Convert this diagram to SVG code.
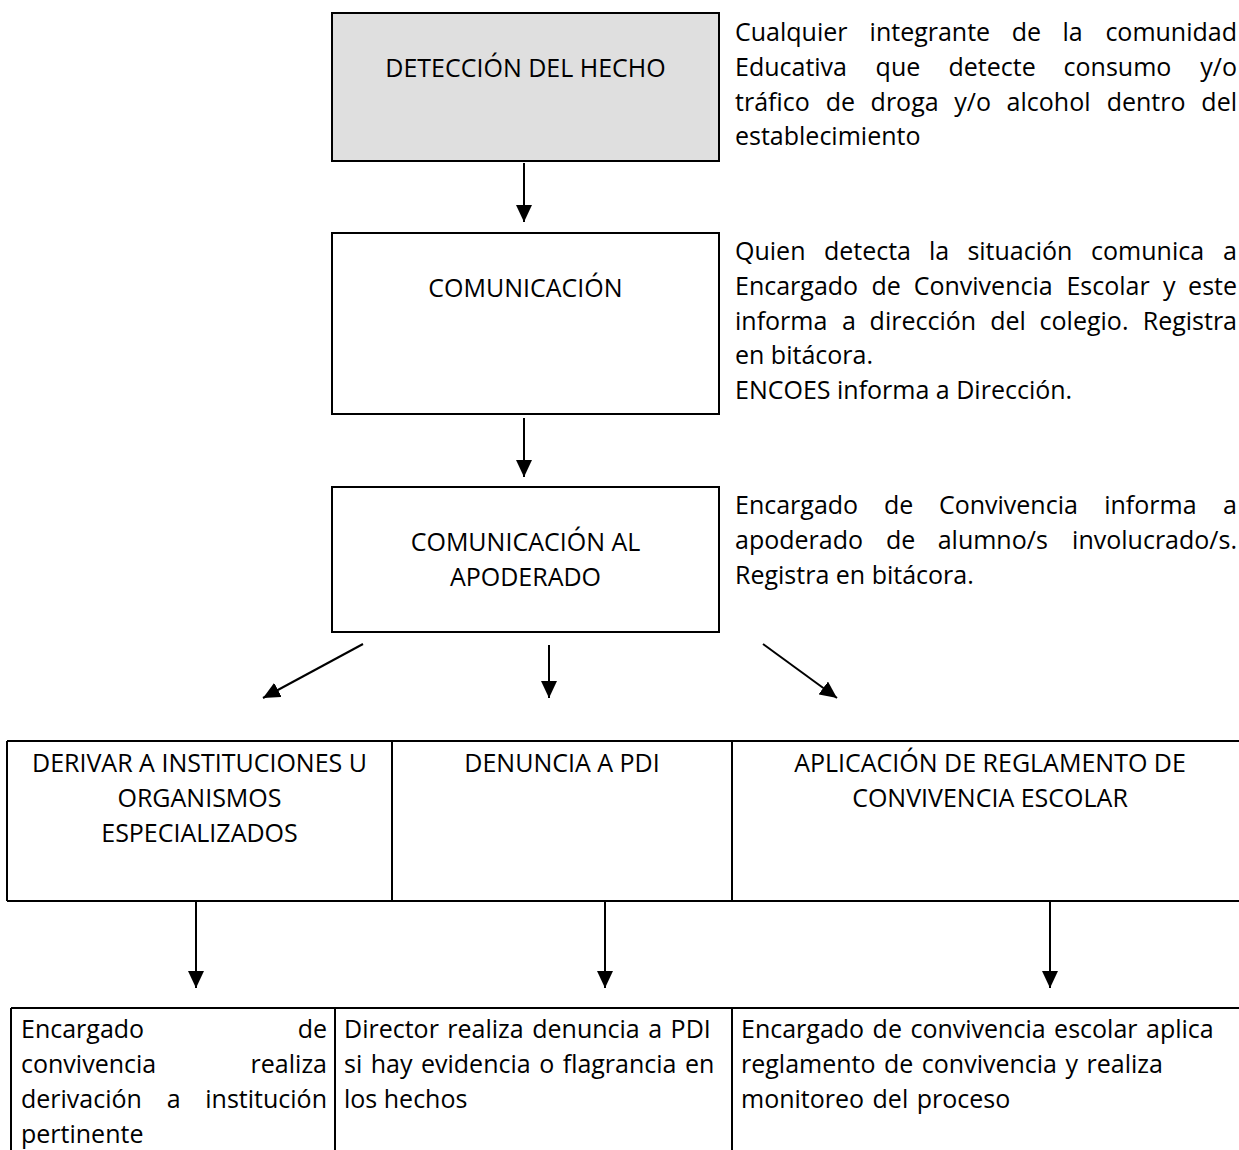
<svg xmlns="http://www.w3.org/2000/svg" width="1239" height="1150" viewBox="0 0 1239 1150">
<style>
  text { font-family: "Open Sans", "Liberation Sans", sans-serif; font-size: 25px; fill: #000; }
  .c { text-anchor: middle; }
  .e { text-anchor: end; }
  .box { fill: #fff; stroke: #000; stroke-width: 2; }
  .grey { fill: #dfdfdf; }
  .grid { stroke: #000; stroke-width: 2; fill: none; }
  .conn { stroke: #000; stroke-width: 2; fill: none; marker-end: url(#ah); }
</style>
<defs>
  <marker id="ah" markerUnits="userSpaceOnUse" markerWidth="17" markerHeight="16" refX="17" refY="8" orient="auto">
    <path d="M0,0 L17,8 L0,16 Z" fill="#000"/>
  </marker>
</defs>
<rect width="1239" height="1150" fill="#fff"/>

<g id="n-deteccion">
  <rect class="box grey" x="332" y="13" width="387" height="148"/>
  <text class="c" x="525.5" y="77">DETECCIÓN DEL HECHO</text>
</g>
<g id="t-deteccion">
  <text y="41"><tspan x="735">Cualquier</tspan><tspan x="869.6">integrante</tspan><tspan x="1011.7">de</tspan><tspan x="1062.5">la</tspan></text>
  <text class="e" x="1237" y="41">comunidad</text>
  <text y="75.8"><tspan x="735">Educativa</tspan><tspan x="875.6">que</tspan><tspan x="948.5">detecte</tspan><tspan x="1063.6">consumo</tspan></text>
  <text class="e" x="1237" y="75.8">y/o</text>
  <text y="110.6"><tspan x="735">tráfico</tspan><tspan x="825.7">de</tspan><tspan x="870.6">droga</tspan><tspan x="954.3">y/o</tspan><tspan x="1006.6">alcohol</tspan><tspan x="1106.7">dentro</tspan></text>
  <text class="e" x="1237" y="110.6">del</text>
  <text x="735" y="145.4">establecimiento</text>
</g>

<g id="n-comunicacion">
  <rect class="box" x="332" y="233" width="387" height="181"/>
  <text class="c" x="525.5" y="297">COMUNICACIÓN</text>
</g>
<g id="t-comunicacion">
  <text y="260"><tspan x="735">Quien</tspan><tspan x="823.9">detecta</tspan><tspan x="928.9">la</tspan><tspan x="967.4">situación</tspan><tspan x="1091.1">comunica</tspan></text>
  <text class="e" x="1237" y="260">a</text>
  <text y="294.8"><tspan x="735">Encargado</tspan><tspan x="871.4">de</tspan><tspan x="913.7">Convivencia</tspan><tspan x="1066.4">Escolar</tspan><tspan x="1162.9">y</tspan></text>
  <text class="e" x="1237" y="294.8">este</text>
  <text y="329.6"><tspan x="735">informa</tspan><tspan x="842">a</tspan><tspan x="869.6">dirección</tspan><tspan x="990.2">del</tspan><tspan x="1039.6">colegio.</tspan></text>
  <text class="e" x="1237" y="329.6">Registra</text>
  <text x="735" y="364.4">en bitácora.</text>
  <text x="735" y="399.2">ENCOES informa a Dirección.</text>
</g>

<g id="n-apoderado">
  <rect class="box" x="332" y="487" width="387" height="145"/>
  <text class="c" x="525.5" y="551">COMUNICACIÓN AL</text>
  <text class="c" x="525.5" y="586">APODERADO</text>
</g>
<g id="t-apoderado">
  <text y="514"><tspan x="735">Encargado</tspan><tspan x="884">de</tspan><tspan x="938.9">Convivencia</tspan><tspan x="1104.2">informa</tspan></text>
  <text class="e" x="1237" y="514">a</text>
  <text y="548.8"><tspan x="735">apoderado</tspan><tspan x="885.9">de</tspan><tspan x="937.7">alumno/s</tspan></text>
  <text class="e" x="1237" y="548.8">involucrado/s.</text>
  <text x="735" y="583.6">Registra en bitácora.</text>
</g>

<g id="n-acciones">
  <path class="grid" d="M7,741 H1239 M7,901 H1239 M7,741 V901 M392,741 V901 M732,741 V901"/>
  <g id="n-derivar">
    <text class="c" x="199.5" y="772">DERIVAR A INSTITUCIONES U</text>
    <text class="c" x="199.5" y="807">ORGANISMOS</text>
    <text class="c" x="199.5" y="842">ESPECIALIZADOS</text>
  </g>
  <g id="n-denuncia">
    <text class="c" x="562" y="772">DENUNCIA A PDI</text>
  </g>
  <g id="n-reglamento">
    <text class="c" x="990" y="772">APLICACIÓN DE REGLAMENTO DE</text>
    <text class="c" x="990" y="807">CONVIVENCIA ESCOLAR</text>
  </g>
</g>

<g id="n-responsables">
  <path class="grid" d="M11,1008 H1239 M11,1008 V1150 M335,1008 V1150 M732,1008 V1150"/>
  <g id="n-derivacion">
    <text x="21" y="1038">Encargado</text>
    <text class="e" x="327" y="1038">de</text>
    <text x="21" y="1073">convivencia</text>
    <text class="e" x="327" y="1073">realiza</text>
    <text y="1108"><tspan x="21">derivación</tspan><tspan x="166.8">a</tspan></text>
    <text class="e" x="327" y="1108">institución</text>
    <text x="21" y="1143">pertinente</text>
  </g>
  <g id="n-director">
    <text x="344" y="1038" word-spacing="2">Director realiza denuncia a PDI</text>
    <text x="344" y="1073" word-spacing="2">si hay evidencia o flagrancia en</text>
    <text x="344" y="1108">los hechos</text>
  </g>
  <g id="n-encargado">
    <text x="741" y="1038" word-spacing="2">Encargado de convivencia escolar aplica</text>
    <text x="741" y="1073" word-spacing="2">reglamento de convivencia y realiza</text>
    <text x="741" y="1108" word-spacing="2">monitoreo del proceso</text>
  </g>
</g>

<g id="connectors">
  <line class="conn" x1="524" y1="163" x2="524" y2="222"/>
  <line class="conn" x1="524" y1="418" x2="524" y2="477"/>
  <line class="conn" x1="363" y1="644" x2="263" y2="698"/>
  <line class="conn" x1="549" y1="645" x2="549" y2="698"/>
  <line class="conn" x1="763" y1="644" x2="837" y2="698"/>
  <line class="conn" x1="196" y1="902" x2="196" y2="988"/>
  <line class="conn" x1="605" y1="902" x2="605" y2="988"/>
  <line class="conn" x1="1050" y1="902" x2="1050" y2="988"/>
</g>
</svg>
